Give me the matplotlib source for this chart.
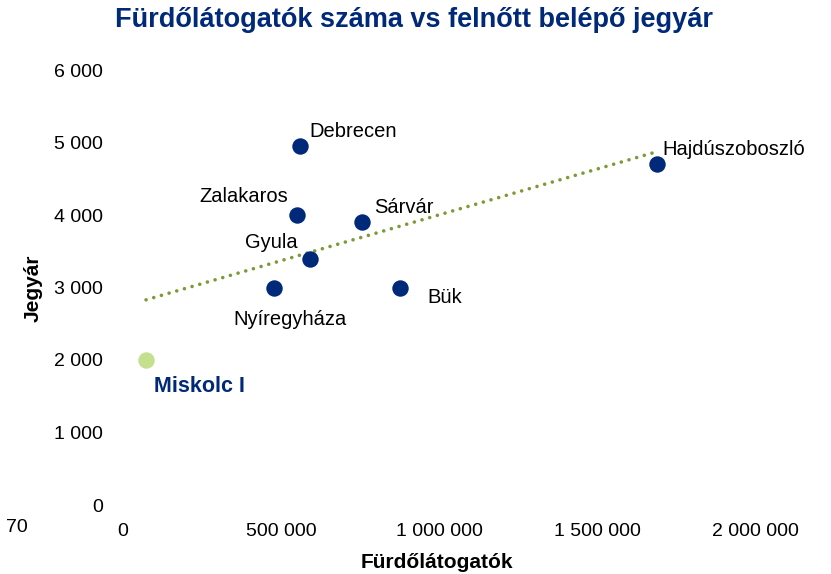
import numpy as np
import matplotlib.pyplot as plt

plt.rcParams['font.family'] = ['Liberation Sans', 'DejaVu Sans']

# Data
cities = ['Debrecen', 'Hajdúszoboszló', 'Zalakaros', 'Sárvár', 'Gyula',
          'Nyíregyháza', 'Bük']
visitors = [560000, 1690000, 550000, 756000, 592000, 478000, 877000]
prices = [4950, 4700, 4000, 3900, 3400, 3000, 3000]

miskolc_name = 'Miskolc I'
miskolc_visitors = 73000
miskolc_price = 2000

xticks = [0, 500000, 1000000, 1500000, 2000000]
yticks = [0, 1000, 2000, 3000, 4000, 5000, 6000]

# label offsets in pixels (dx, dy) and alignment
label_pos = {
    'Debrecen': (9, 15, 'left'),
    'Hajdúszoboszló': (5, 15, 'left'),
    'Zalakaros': (-9, 18, 'right'),
    'Sárvár': (12, 15, 'left'),
    'Gyula': (-12, 16, 'right'),
    'Nyíregyháza': (16, -32, 'center'),
    'Bük': (27, -10, 'left'),
}

navy = '#00297A'
light_green = '#C4E08E'
trend_green = '#7E9A36'


def fmt(v):
    return '{:,}'.format(int(v)).replace(',', ' ')


fig = plt.figure(figsize=(8.31, 5.74), dpi=100)
W, H = 831, 574
ax = fig.add_axes([110 / W, 1 - 505 / H, (818 - 110) / W, (505 - 70) / H])

x0 = (110 - 123) / 316 * 1e6
x1 = (818 - 123) / 316 * 1e6
ax.set_xlim(x0, x1)
ax.set_ylim(0, 6000)

# trend line over all points
all_x = np.array(visitors + [miskolc_visitors])
all_y = np.array(prices + [miskolc_price])
k, b = np.polyfit(all_x, all_y, 1)
tx = np.array([all_x.min(), all_x.max()])
ax.plot(tx, k * tx + b, color=trend_green, lw=2.6, ls=(0, (0.01, 2.2)),
        dash_capstyle='round', zorder=2)

ax.scatter(visitors, prices, s=140, color=navy, zorder=3, linewidths=0)
ax.scatter([miskolc_visitors], [miskolc_price], s=140, color=light_green,
           zorder=3, linewidths=0)

for name, xv, yv in zip(cities, visitors, prices):
    dx, dy, ha = label_pos[name]
    ax.annotate(name, (xv, yv), xytext=(dx, dy), textcoords='offset pixels',
                ha=ha, va='center', fontsize=14.5, color='black')

ax.annotate(miskolc_name, (miskolc_visitors, miskolc_price), xytext=(8, -27),
            textcoords='offset pixels', ha='left', va='center',
            fontsize=15.5, fontweight='bold', color=navy)

ax.set_xticks(xticks)
ax.set_xticklabels([fmt(v) for v in xticks])
ax.set_yticks(yticks)
ax.set_yticklabels([fmt(v) for v in yticks])
ax.tick_params(length=0, labelsize=14)
ax.tick_params(axis='x', pad=13)
ax.tick_params(axis='y', pad=5)
for s in ax.spines.values():
    s.set_visible(False)

fig.text(17 / W, 1 - 528 / H, '70', ha='center', va='center', fontsize=14)

fig.text(437 / W, 1 - 562 / H, 'Fürdőlátogatók', ha='center', va='center',
         fontsize=15, fontweight='bold')
fig.text(33 / W, 1 - 288 / H, 'Jegyár', ha='center', va='center',
         rotation=90, fontsize=15, fontweight='bold')

fig.text(414 / W, 1 - 20 / H, 'Fürdőlátogatók száma vs felnőtt belépő jegyár',
         ha='center', va='center', fontsize=19.5, fontweight='bold',
         color=navy)

fig.savefig('out.png', dpi=100)
